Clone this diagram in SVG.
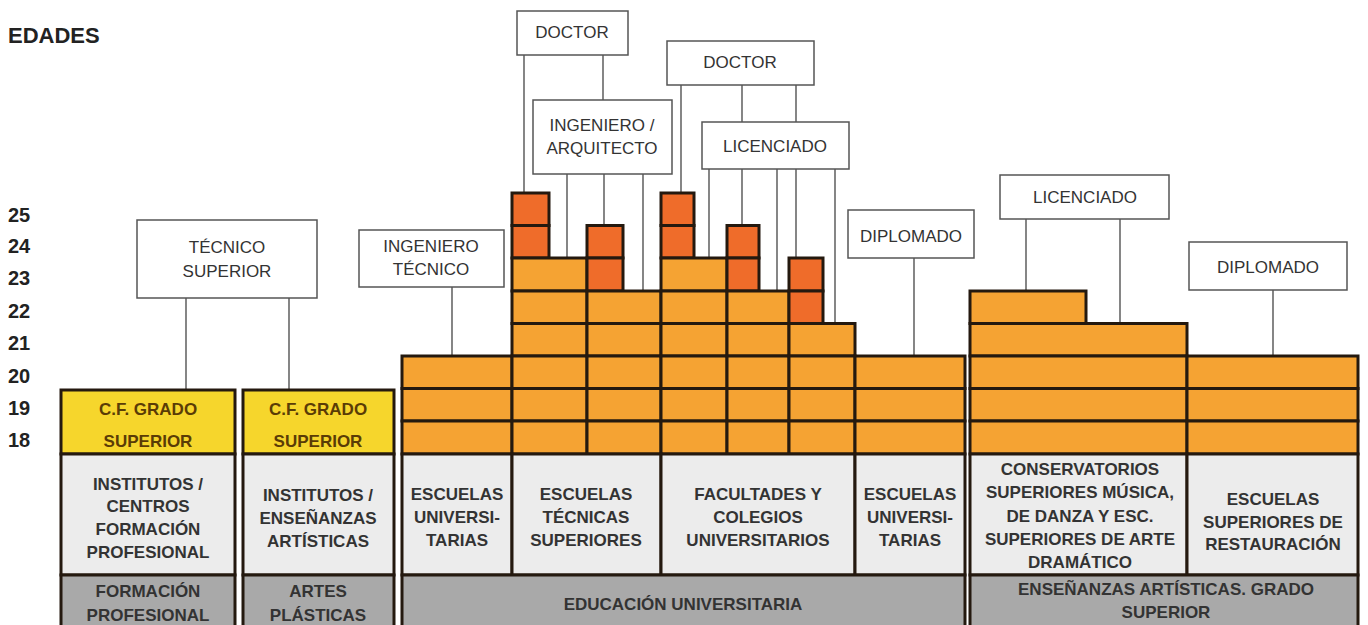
<svg xmlns="http://www.w3.org/2000/svg" width="1368" height="625" viewBox="0 0 1368 625">
<style>
text{font-family:"Liberation Sans",Arial,sans-serif;fill:#333}
.t{font-size:17px;text-anchor:middle}
.b{font-size:17px;font-weight:bold;text-anchor:middle}
.age{font-size:20px;font-weight:bold;fill:#222}
.yt{fill:#5a3c06}
.box{fill:#fff;stroke:#555;stroke-width:1.5}
.o{fill:#F5A333;stroke:#24190f;stroke-width:3}
.r{fill:#EF6C2A;stroke:#24190f;stroke-width:3}
.y{fill:#F6D62C;stroke:#24190f;stroke-width:3}
.w{fill:#ECECEC;stroke:#24190f;stroke-width:3}
.g{fill:#A9A9A9;stroke:#24190f;stroke-width:3}
#connectors line{stroke:#444;stroke-width:1.3}
</style>
<rect width="1368" height="625" fill="#fff"/>
<text x="8" y="43" style="font-size:22px;font-weight:bold;fill:#222">EDADES</text>
<g id="ages">
<text class="age" x="8" y="222">25</text>
<text class="age" x="8" y="253">24</text>
<text class="age" x="8" y="285">23</text>
<text class="age" x="8" y="318">22</text>
<text class="age" x="8" y="350">21</text>
<text class="age" x="8" y="383">20</text>
<text class="age" x="8" y="415">19</text>
<text class="age" x="8" y="447">18</text>
</g>
<g id="connectors">
<line x1="186" y1="298" x2="186" y2="390"/>
<line x1="289" y1="298" x2="289" y2="390"/>
<line x1="452" y1="287" x2="452" y2="356"/>
<line x1="524" y1="55" x2="524" y2="193"/>
<line x1="603" y1="55" x2="603" y2="100"/>
<line x1="567" y1="174" x2="567" y2="258"/>
<line x1="604" y1="174" x2="604" y2="225.5"/>
<line x1="643" y1="174" x2="643" y2="291"/>
<line x1="681" y1="85" x2="681" y2="193"/>
<line x1="742" y1="85" x2="742" y2="122"/>
<line x1="796" y1="85" x2="796" y2="122"/>
<line x1="709" y1="169" x2="709" y2="258"/>
<line x1="742" y1="169" x2="742" y2="225.5"/>
<line x1="777" y1="169" x2="777" y2="291"/>
<line x1="796" y1="169" x2="796" y2="258"/>
<line x1="835" y1="169" x2="835" y2="323.5"/>
<line x1="914" y1="258" x2="914" y2="356"/>
<line x1="1026" y1="219" x2="1026" y2="291"/>
<line x1="1120" y1="219" x2="1120" y2="323.5"/>
<line x1="1273" y1="290" x2="1273" y2="356"/>
</g>
<g id="label-tecnico-superior"><rect class="box" x="137" y="220" width="180" height="78"/><text class="t" x="227" y="253">TÉCNICO</text><text class="t" x="227" y="277">SUPERIOR</text></g>
<g id="label-ingeniero-tecnico"><rect class="box" x="359" y="230" width="145" height="57"/><text class="t" x="431" y="252">INGENIERO</text><text class="t" x="431" y="275">TÉCNICO</text></g>
<g id="label-doctor-1"><rect class="box" x="517" y="11" width="111" height="44"/><text class="t" x="572" y="38">DOCTOR</text></g>
<g id="label-ingeniero-arquitecto"><rect class="box" x="533" y="100" width="139" height="74"/><text class="t" x="602" y="131">INGENIERO /</text><text class="t" x="602" y="154">ARQUITECTO</text></g>
<g id="label-doctor-2"><rect class="box" x="667" y="41" width="147" height="44"/><text class="t" x="740" y="68">DOCTOR</text></g>
<g id="label-licenciado-1"><rect class="box" x="702" y="122" width="147" height="47"/><text class="t" x="775" y="152">LICENCIADO</text></g>
<g id="label-diplomado-1"><rect class="box" x="848" y="210" width="126" height="48"/><text class="t" x="911" y="242">DIPLOMADO</text></g>
<g id="label-licenciado-2"><rect class="box" x="1000" y="175" width="169" height="44"/><text class="t" x="1085" y="203">LICENCIADO</text></g>
<g id="label-diplomado-2"><rect class="box" x="1189" y="242" width="158" height="48"/><text class="t" x="1268" y="273">DIPLOMADO</text></g>
<g id="formacion-profesional">
<rect class="y" x="61" y="390" width="174" height="64"/>
<text class="b yt" x="148" y="415">C.F. GRADO</text><text class="b yt" x="148" y="447">SUPERIOR</text>
<rect class="w" x="61" y="454" width="174" height="121"/>
<text class="b" x="148" y="490">INSTITUTOS /</text><text class="b" x="148" y="512">CENTROS</text><text class="b" x="148" y="535">FORMACIÓN</text><text class="b" x="148" y="558">PROFESIONAL</text>
<rect class="g" x="61" y="575" width="174" height="52"/>
<text class="b" x="148" y="597">FORMACIÓN</text><text class="b" x="148" y="621">PROFESIONAL</text>
</g>
<g id="artes-plasticas">
<rect class="y" x="243" y="390" width="151" height="64"/>
<text class="b yt" x="318" y="415">C.F. GRADO</text><text class="b yt" x="318" y="447">SUPERIOR</text>
<rect class="w" x="243" y="454" width="151" height="121"/>
<text class="b" x="318" y="501">INSTITUTOS /</text><text class="b" x="318" y="524">ENSEÑANZAS</text><text class="b" x="318" y="547">ARTÍSTICAS</text>
<rect class="g" x="243" y="575" width="151" height="52"/>
<text class="b" x="318" y="597">ARTES</text><text class="b" x="318" y="621">PLÁSTICAS</text>
</g>
<g id="educacion-universitaria">
<!-- A escuelas universitarias -->
<rect class="o" x="402" y="356" width="110" height="32.5"/><rect class="o" x="402" y="388.5" width="110" height="32.5"/><rect class="o" x="402" y="421" width="110" height="33"/>
<!-- B1 -->
<rect class="r" x="512" y="193" width="37" height="32.5"/><rect class="r" x="512" y="225.5" width="37" height="32.5"/>
<rect class="o" x="512" y="258" width="75" height="33"/><rect class="o" x="512" y="291" width="75" height="32.5"/><rect class="o" x="512" y="323.5" width="75" height="32.5"/><rect class="o" x="512" y="356" width="75" height="32.5"/><rect class="o" x="512" y="388.5" width="75" height="32.5"/><rect class="o" x="512" y="421" width="75" height="33"/>
<!-- B2 -->
<rect class="r" x="587" y="225.5" width="36" height="32.5"/><rect class="r" x="587" y="258" width="36" height="33"/>
<rect class="o" x="587" y="291" width="74" height="32.5"/><rect class="o" x="587" y="323.5" width="74" height="32.5"/><rect class="o" x="587" y="356" width="74" height="32.5"/><rect class="o" x="587" y="388.5" width="74" height="32.5"/><rect class="o" x="587" y="421" width="74" height="33"/>
<!-- C1 -->
<rect class="r" x="661" y="193" width="33" height="32.5"/><rect class="r" x="661" y="225.5" width="33" height="32.5"/>
<rect class="o" x="661" y="258" width="66" height="33"/><rect class="o" x="661" y="291" width="66" height="32.5"/><rect class="o" x="661" y="323.5" width="66" height="32.5"/><rect class="o" x="661" y="356" width="66" height="32.5"/><rect class="o" x="661" y="388.5" width="66" height="32.5"/><rect class="o" x="661" y="421" width="66" height="33"/>
<!-- C2 -->
<rect class="r" x="727" y="225.5" width="32" height="32.5"/><rect class="r" x="727" y="258" width="32" height="33"/>
<rect class="o" x="727" y="291" width="62" height="32.5"/><rect class="o" x="727" y="323.5" width="62" height="32.5"/><rect class="o" x="727" y="356" width="62" height="32.5"/><rect class="o" x="727" y="388.5" width="62" height="32.5"/><rect class="o" x="727" y="421" width="62" height="33"/>
<!-- C3 -->
<rect class="r" x="789" y="258" width="34" height="33"/><rect class="r" x="789" y="291" width="34" height="32.5"/>
<rect class="o" x="789" y="323.5" width="66" height="32.5"/><rect class="o" x="789" y="356" width="66" height="32.5"/><rect class="o" x="789" y="388.5" width="66" height="32.5"/><rect class="o" x="789" y="421" width="66" height="33"/>
<!-- D -->
<rect class="o" x="855" y="356" width="110" height="32.5"/><rect class="o" x="855" y="388.5" width="110" height="32.5"/><rect class="o" x="855" y="421" width="110" height="33"/>
<rect class="w" x="402" y="454" width="110" height="121"/><rect class="w" x="512" y="454" width="149" height="121"/><rect class="w" x="661" y="454" width="194" height="121"/><rect class="w" x="855" y="454" width="110" height="121"/>
<text class="b" x="457" y="500">ESCUELAS</text><text class="b" x="457" y="523">UNIVERSI-</text><text class="b" x="457" y="546">TARIAS</text>
<text class="b" x="586" y="500">ESCUELAS</text><text class="b" x="586" y="523">TÉCNICAS</text><text class="b" x="586" y="546">SUPERIORES</text>
<text class="b" x="758" y="500">FACULTADES Y</text><text class="b" x="758" y="523">COLEGIOS</text><text class="b" x="758" y="546">UNIVERSITARIOS</text>
<text class="b" x="910" y="500">ESCUELAS</text><text class="b" x="910" y="523">UNIVERSI-</text><text class="b" x="910" y="546">TARIAS</text>
<rect class="g" x="402" y="575" width="563" height="52"/>
<text class="b" x="683" y="610">EDUCACIÓN UNIVERSITARIA</text>
</g>
<g id="ensenanzas-artisticas">
<rect class="o" x="970" y="291" width="116" height="32.5"/>
<rect class="o" x="970" y="323.5" width="217" height="32.5"/><rect class="o" x="970" y="356" width="217" height="32.5"/><rect class="o" x="970" y="388.5" width="217" height="32.5"/><rect class="o" x="970" y="421" width="217" height="33"/>
<rect class="o" x="1187" y="356" width="171" height="32.5"/><rect class="o" x="1187" y="388.5" width="171" height="32.5"/><rect class="o" x="1187" y="421" width="171" height="33"/>
<rect class="w" x="970" y="454" width="217" height="121"/><rect class="w" x="1187" y="454" width="171" height="121"/>
<text class="b" x="1080" y="475">CONSERVATORIOS</text><text class="b" x="1080" y="498">SUPERIORES MÚSICA,</text><text class="b" x="1080" y="522">DE DANZA Y ESC.</text><text class="b" x="1080" y="545">SUPERIORES DE ARTE</text><text class="b" x="1080" y="568">DRAMÁTICO</text>
<text class="b" x="1273" y="505">ESCUELAS</text><text class="b" x="1273" y="528">SUPERIORES DE</text><text class="b" x="1273" y="550">RESTAURACIÓN</text>
<rect class="g" x="970" y="575" width="388" height="52"/>
<text class="b" x="1166" y="595">ENSEÑANZAS ARTÍSTICAS. GRADO</text><text class="b" x="1166" y="618">SUPERIOR</text>
</g>
</svg>
